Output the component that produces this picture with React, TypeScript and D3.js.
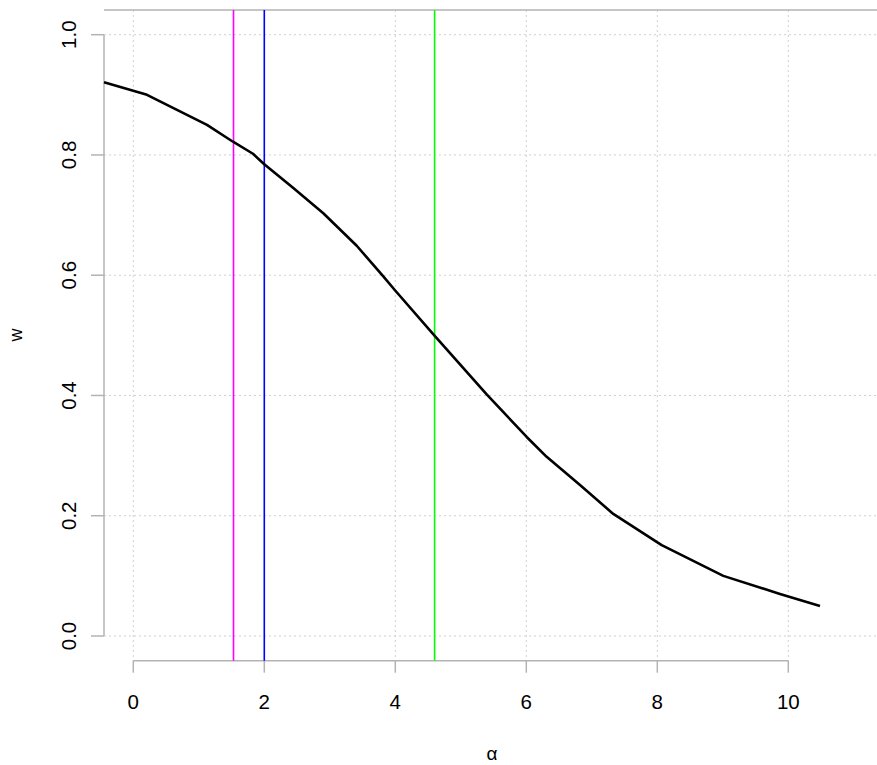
import React from "react";
import * as d3 from "d3";

const curveX = [-0.447, 0.209, 1.125, 1.522, 1.827, 1.995, 2.443, 2.901, 3.411, 3.817, 3.995, 4.595, 5.395, 6.006, 6.311, 6.82, 7.328, 8.067, 9.008, 9.873, 10.484];
const curveY = [0.921, 0.9, 0.85, 0.822, 0.802, 0.785, 0.745, 0.703, 0.649, 0.598, 0.575, 0.5, 0.402, 0.331, 0.298, 0.251, 0.203, 0.151, 0.1, 0.07, 0.05];
const xTicks = [0, 2, 4, 6, 8, 10];
const yTicks = [0, 0.2, 0.4, 0.6, 0.8, 1.0];
const vLineX = [1.53, 2.0, 4.6];
const vLineColors = ["#ff00ff", "#0000ff", "#00ff00"];

const W = 877, H = 765;

export default function App() {
  const x = d3.scaleLinear().domain([0, 10]).range([133.3, 788.3]);
  const y = d3.scaleLinear().domain([0, 1]).range([636, 34.7]);
  const pts = curveX.map((v, i) => [v, curveY[i]] as [number, number]);
  const line = d3.line<[number, number]>().x(d => x(d[0])).y(d => y(d[1]));
  const plotTop = 10, axisY = 660.7, axisX = 104;
  const font = "Liberation Sans, Arial, Helvetica, sans-serif";
  const axisCol = "#b3b3b3";
  const gridCol = "#d0d0d0";
  return (
    <svg width={W} height={H} style={{ position: "absolute", left: 0, top: 0, background: "#fff" }} fontFamily={font}>
      {xTicks.map(t => (
        <line key={"gx" + t} x1={x(t)} x2={x(t)} y1={plotTop} y2={axisY} stroke={gridCol} strokeWidth={1} strokeDasharray="2,3" />
      ))}
      {yTicks.map(t => (
        <line key={"gy" + t} x1={axisX} x2={W} y1={y(t)} y2={y(t)} stroke={gridCol} strokeWidth={1} strokeDasharray="2,3" />
      ))}
      <line x1={axisX} x2={W} y1={plotTop} y2={plotTop} stroke={axisCol} strokeWidth={1.5} />
      <line x1={axisX} x2={axisX} y1={y(1)} y2={y(0)} stroke={axisCol} strokeWidth={1.5} />
      {yTicks.map(t => (
        <g key={"yt" + t}>
          <line x1={axisX - 13} x2={axisX} y1={y(t)} y2={y(t)} stroke={axisCol} strokeWidth={1.5} />
          <text x={0} y={0} transform={`translate(76,${y(t)}) rotate(-90)`} textAnchor="middle" fontSize={20.5} fill="#000">{t.toFixed(1)}</text>
        </g>
      ))}
      <line x1={x(0)} x2={x(10)} y1={axisY} y2={axisY} stroke={axisCol} strokeWidth={1.5} />
      {xTicks.map(t => (
        <g key={"xt" + t}>
          <line x1={x(t)} x2={x(t)} y1={axisY} y2={axisY + 12} stroke={axisCol} strokeWidth={1.5} />
          <text x={x(t)} y={709.3} textAnchor="middle" fontSize={20.5} fill="#000">{t}</text>
        </g>
      ))}
      {vLineX.map((v, i) => (
        <line key={"v" + i} x1={x(v)} x2={x(v)} y1={plotTop} y2={axisY} stroke={vLineColors[i]} strokeWidth={1.6} />
      ))}
      <path d={line(pts) || ""} fill="none" stroke="#000" strokeWidth={2.6} strokeLinejoin="round" />
      <text transform={`translate(22,335) rotate(-90)`} textAnchor="middle" fontSize={18} fill="#000">w</text>
      <text x={492} y={760} textAnchor="middle" fontSize={19} fill="#000">α</text>
    </svg>
  );
}
